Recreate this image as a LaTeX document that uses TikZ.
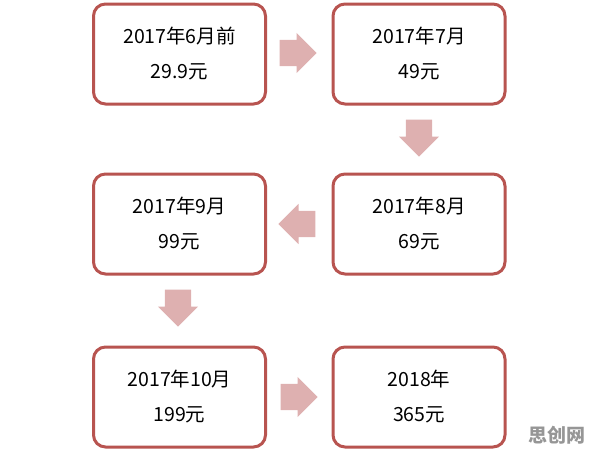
\documentclass[tikz,border=0pt]{standalone}
\usepackage{fontspec}
\setmainfont{Noto Sans CJK SC}
\usepackage{tikz}
\usetikzlibrary{positioning,shapes,shapes.arrows,calc}
\definecolor{boxred}{RGB}{184,84,80}
\definecolor{arrowpink}{RGB}{222,176,176}
\definecolor{markgray}{RGB}{150,150,150}

\begin{document}
\begin{tikzpicture}[x=1pt, y=-1pt,
                    stage/.style={draw=boxred, line width=3pt, rounded corners=12pt, fill=white,
                                  minimum width=172pt, minimum height=100pt, align=center,
                                  font=\fontsize{19.5}{35}\selectfont},
                    flow/.style={single arrow, fill=arrowpink, draw=none, anchor=tail,
                                 inner xsep=0pt, inner ysep=13pt,
                                 minimum height=37pt, single arrow head extend=7pt},
                    flowdown/.style={flow, shape border rotate=270,
                                     inner xsep=13pt, inner ysep=0pt}]
    \useasboundingbox (0,0) rectangle (596,451);
    % price stages
    \node[stage] (jun) at (179.5,54) {2017年6月前\\29.9元};
    \node[stage] (jul) at (419,54) {2017年7月\\49元};
    \node[stage] (aug) at (419,224) {2017年8月\\69元};
    \node[stage] (sep) at (179.5,224) {2017年9月\\99元};
    \node[stage] (oct) at (179.5,397) {2017年10月\\199元};
    \node[stage] (y18) at (419,397) {2018年\\365元};
    % block arrows between stages
    \node[flow] (a1) at ($(jun.east)+(12.5,-1)$) {};
    \node[flowdown] (a2) at ($(jul.south)+(0,14)$) {};
    \node[flow, shape border rotate=180] (a3) at ($(aug.west)+(-16,0)$) {};
    \node[flowdown] (a4) at ($(sep.south)+(-1.5,14)$) {};
    \node[flow] (a5) at ($(oct.east)+(13.5,0)$) {};
    % watermark
    \node[text=markgray, font=\bfseries\fontsize{19}{19}\selectfont] (mark) at (557,435) {思创网};
\end{tikzpicture}
\end{document}
